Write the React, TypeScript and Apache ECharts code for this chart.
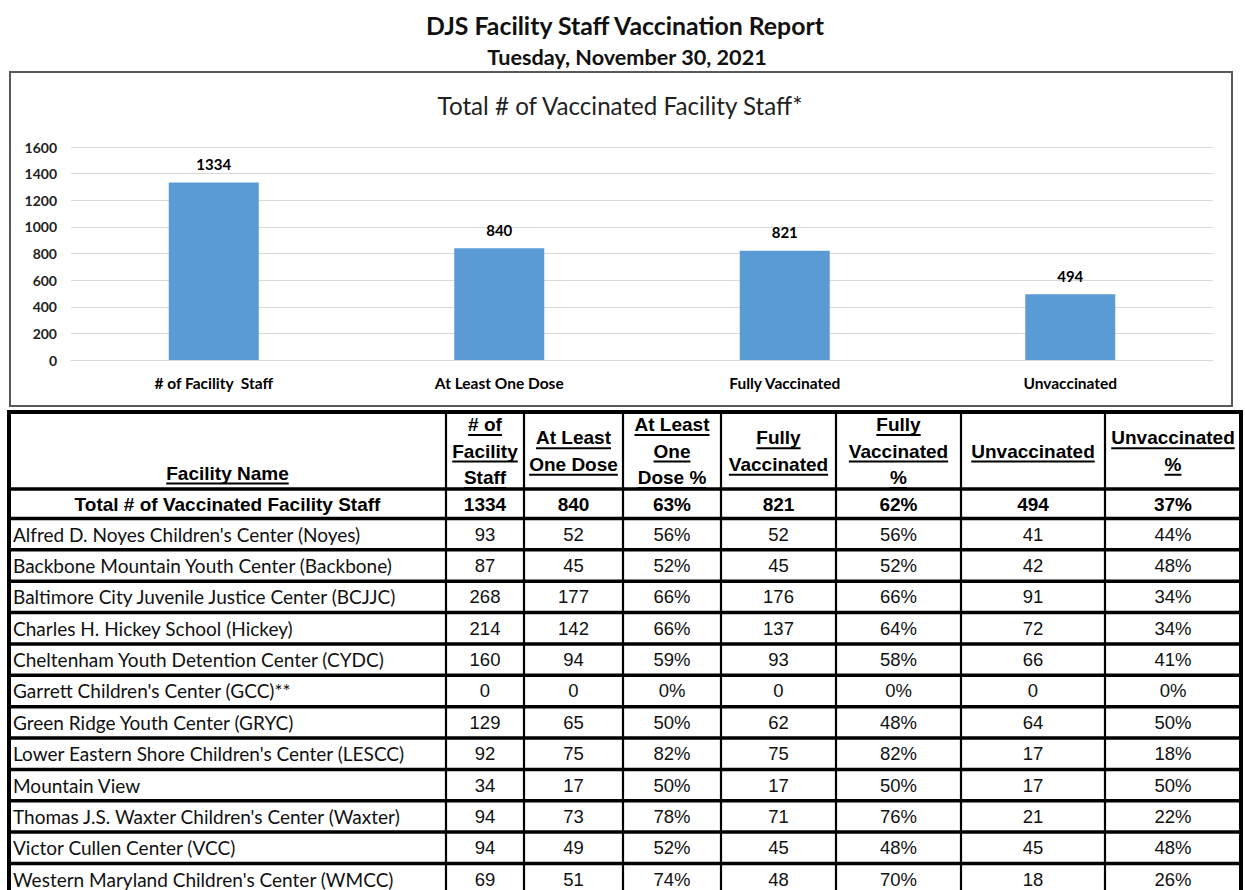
import React, { useEffect, useRef } from "react";
import * as echarts from "echarts";

// ---------- data ----------
const reportTitle = "DJS Facility Staff Vaccination Report";
const reportDate = "Tuesday, November 30, 2021";
const chartTitle = "Total # of Vaccinated Facility Staff*";

const barCategories = ["# of Facility  Staff", "At Least One Dose", "Fully Vaccinated", "Unvaccinated"];
const barValues = [1334, 840, 821, 494];
const yMin = 0;
const yMax = 1600;
const yStep = 200;

const tableHeaders = [
  "Facility Name",
  "# of\nFacility\nStaff",
  "At Least\nOne Dose",
  "At Least\nOne\nDose %",
  "Fully\nVaccinated",
  "Fully\nVaccinated\n%",
  "Unvaccinated",
  "Unvaccinated\n%",
];
const percentColumns = [false, false, true, false, true, false, true];

const totalLabel = "Total # of Vaccinated Facility Staff";
const totalRow = [1334, 840, 63, 821, 62, 494, 37];

const facilities = [
  "Alfred D. Noyes Children's Center (Noyes)",
  "Backbone Mountain Youth Center (Backbone)",
  "Baltimore City Juvenile Justice Center (BCJJC)",
  "Charles H. Hickey School (Hickey)",
  "Cheltenham Youth Detention Center (CYDC)",
  "Garrett Children's Center (GCC)**",
  "Green Ridge Youth Center (GRYC)",
  "Lower Eastern Shore Children's Center (LESCC)",
  "Mountain View",
  "Thomas J.S. Waxter Children's Center (Waxter)",
  "Victor Cullen Center (VCC)",
  "Western Maryland Children's Center (WMCC)",
];
const staffCounts = [93, 87, 268, 214, 160, 0, 129, 92, 34, 94, 94, 69];
const oneDose = [52, 45, 177, 142, 94, 0, 65, 75, 17, 73, 49, 51];
const oneDosePct = [56, 52, 66, 66, 59, 0, 50, 82, 50, 78, 52, 74];
const fullyVaccinated = [52, 45, 176, 137, 93, 0, 62, 75, 17, 71, 45, 48];
const fullyPct = [56, 52, 66, 64, 58, 0, 48, 82, 50, 76, 48, 70];
const unvaccinated = [41, 42, 91, 72, 66, 0, 64, 17, 17, 21, 45, 18];
const unvaccinatedPct = [44, 48, 34, 34, 41, 0, 50, 18, 50, 22, 48, 26];

export default function App() {
  const ref = useRef<HTMLDivElement>(null);

  useEffect(() => {
    const el = ref.current as HTMLDivElement;
    const chart = echarts.init(el, null, { renderer: "svg" });

    const ctx = document.createElement("canvas").getContext("2d") as CanvasRenderingContext2D;
    const measure = (t: string, font: string) => {
      ctx.font = font;
      return ctx.measureText(t).width;
    };
    const ARIAL = '"Liberation Sans", Arial, sans-serif';
    const CAL = 'Lato, "Open Sans", sans-serif';
    const fit = (t: string, weight: string, fam: string, w: number) =>
      (100 * w) / measure(t, `${weight} 100px ${fam}`);

    const g: any[] = [];
    const T = (
      x: number,
      y: number,
      text: string,
      size: number,
      weight: string,
      fam: string,
      align = "center",
      fill = "#000",
      z = 20
    ) => ({
      type: "text",
      x,
      y,
      z,
      silent: true,
      style: { text, x: 0, y: 0, fontSize: size, fontWeight: weight, fontFamily: fam, fill, align, verticalAlign: "middle" },
    });
    const L = (x1: number, y1: number, x2: number, y2: number, w: number, color = "#000", z = 30) => ({
      type: "line",
      z,
      silent: true,
      shape: { x1, y1, x2, y2 },
      style: { stroke: color, lineWidth: w },
    });

    // titles
    g.push(T(625, 25, reportTitle, fit(reportTitle, "bold", CAL, 400), "bold", CAL, "center", "#111"));
    g.push(T(627, 57, reportDate, fit(reportDate, "bold", CAL, 280), "bold", CAL, "center", "#111"));
    g.push(T(620, 105, chartTitle, fit(chartTitle, "normal", CAL, 367), "normal", CAL, "center", "#222"));

    // chart frame
    g.push({
      type: "rect",
      z: 5,
      silent: true,
      shape: { x: 10, y: 72, width: 1222, height: 334 },
      style: { fill: "none", stroke: "#595959", lineWidth: 2 },
    });

    // ---------- table ----------
    const colEdges = [9, 446, 524, 623, 721, 836, 961, 1105, 1241];
    const headerTop = 412;
    const headerBottom = 489;
    const totalBottom = 518.5;
    const rowH = 31.36;
    const tableBottom = totalBottom + rowH * facilities.length;
    const cx = (i: number) => (colEdges[i] + colEdges[i + 1]) / 2;

    const hSize = 19;
    tableHeaders.forEach((h, i) => {
      const lines = h.split("\n");
      lines.forEach((ln, k) => {
        const y = i === 0 ? 473 : 451 + (k - (lines.length - 1) / 2) * 26.5;
        const x = cx(i);
        g.push(T(x, y, ln, hSize, "bold", ARIAL, "center"));
        const w = measure(ln, `bold ${hSize}px ${ARIAL}`);
        g.push(L(x - w / 2, y + 10.5, x + w / 2, y + 10.5, 2, "#000", 25));
      });
    });
    // white cover below header area to clip overflowing header lines
    g.push({
      type: "rect",
      z: 26,
      silent: true,
      shape: { x: 9, y: headerBottom, width: 1232, height: totalBottom - headerBottom },
      style: { fill: "#fff" },
    });

    // total row
    const totalY = (headerBottom + totalBottom) / 2 + 1;
    g.push(T(cx(0), totalY, totalLabel, 19, "bold", ARIAL, "center", "#000", 27));
    totalRow.forEach((v, j) => {
      g.push(T(cx(j + 1), totalY, percentColumns[j] ? `${v}%` : `${v}`, 19, "bold", ARIAL, "center", "#000", 27));
    });

    // facility rows
    const nameSize = fit(facilities[7], "normal", CAL, 392);
    const columns = [staffCounts, oneDose, oneDosePct, fullyVaccinated, fullyPct, unvaccinated, unvaccinatedPct];
    facilities.forEach((name, r) => {
      const y = totalBottom + rowH * (r + 0.5);
      g.push(T(13, y, name, nameSize, "normal", CAL, "left", "#111"));
      columns.forEach((col, j) => {
        const v = col[r];
        g.push(T(cx(j + 1), y, percentColumns[j] ? `${v}%` : `${v}`, 18.5, "normal", ARIAL, "center", "#111"));
      });
    });

    // grid lines of table
    const hLines = [headerBottom, totalBottom];
    for (let r = 1; r <= facilities.length; r++) hLines.push(totalBottom + rowH * r);
    g.push(L(7, headerTop, 1243, headerTop, 4));
    hLines.forEach((y) => g.push(L(9, y, 1241, y, 3.5)));
    colEdges.forEach((x, i) => {
      const outer = i === 0 || i === colEdges.length - 1;
      g.push(L(x, headerTop, x, tableBottom + 4, outer ? 4 : 2.2));
    });

    const option: any = {
      animation: false,
      backgroundColor: "#fff",
      grid: { left: 71, right: 32, top: 147, bottom: 530, containLabel: false },
      xAxis: {
        type: "category",
        data: barCategories,
        axisLine: { lineStyle: { color: "#d9d9d9", width: 1 } },
        axisTick: { show: false },
        axisLabel: { color: "#000", fontWeight: "bold", fontSize: 15.5, fontFamily: CAL, margin: 15 },
      },
      yAxis: {
        type: "value",
        min: yMin,
        max: yMax,
        interval: yStep,
        axisLine: { show: false },
        axisTick: { show: false },
        splitLine: { lineStyle: { color: "#d9d9d9", width: 1 } },
        axisLabel: {
          color: "#222",
          fontWeight: "bold",
          fontSize: 14,
          fontFamily: CAL,
          margin: 14,
          formatter: (v: number) => String(v),
        },
      },
      series: [
        {
          type: "bar",
          data: barValues,
          barWidth: 90,
          itemStyle: { color: "#5B9BD5" },
          label: {
            show: true,
            position: "top",
            distance: 11,
            color: "#000",
            fontWeight: "bold",
            fontSize: 15,
            fontFamily: CAL,
          },
        },
      ],
      graphic: { elements: g },
    };
    chart.setOption(option);
    return () => chart.dispose();
  }, []);

  return (
    <div
      ref={ref}
      style={{ position: "fixed", left: 0, top: 0, width: 1245, height: 890, background: "#fff" }}
    />
  );
}
